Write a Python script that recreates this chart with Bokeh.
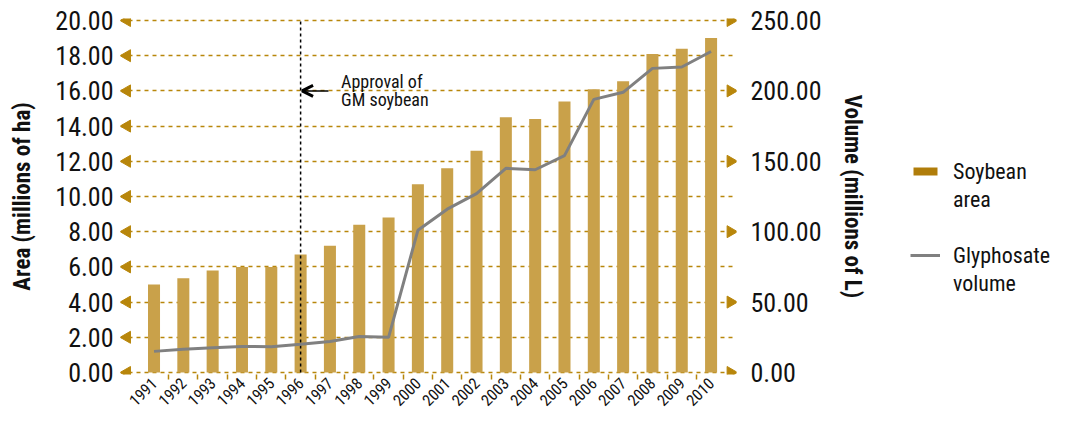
import math
from bokeh.plotting import figure
from bokeh.layouts import row
from bokeh.models import (Range1d, LinearAxis, FixedTicker, NumeralTickFormatter,
                          Legend, LegendItem, Arrow, OpenHead, Grid)
from bokeh.core.properties import value
from bokeh.embed import file_html
from bokeh.resources import INLINE

years = list(range(1991, 2011))
year_labels = [str(y) for y in years]
soy_area = [5.0, 5.35, 5.8, 6.0, 6.0, 6.7, 7.2, 8.4, 8.8, 10.7,
            11.6, 12.6, 14.5, 14.4, 15.4, 16.1, 16.55, 18.1, 18.4, 19.0]
gly_volume = [15, 16.5, 17.5, 18.5, 18.3, 20, 22, 25.5, 25, 101,
              116, 127, 145, 144, 154, 194, 199, 216, 217, 228]
area_ticks = [0, 2, 4, 6, 8, 10, 12, 14, 16, 18, 20]
vol_ticks = [0, 50, 100, 150, 200, 250]
approval_year = 1996
approval_text = ["Approval of", "GM soybean"]
legend_lines = [["Soybean", "area"], ["Glyphosate", "volume"]]

FONT = "Liberation Sans Narrow, Arial Narrow, Roboto Condensed, sans-serif"
GOLD = "#B8860B"
BAR = "#C9A14A"
SWATCH = "#B07D0A"
GRAY = "#808080"
TXT = "#111111"

H = 414
x_start, x_end = 1989.857, 2010.867
y_lo, y_hi = -0.114, 20.114
vol_scale = vol_ticks[-1] / area_ticks[-1]

p = figure(width=872, height=H, output_backend="svg", toolbar_location=None,
           x_range=Range1d(x_start, x_end), y_range=Range1d(y_lo, y_hi),
           min_border_top=18, min_border_left=120, min_border_right=136,
           min_border_bottom=40, y_axis_location=None, x_axis_location=None)
p.outline_line_color = None
p.xgrid.visible = False
p.ygrid.visible = False
p.extra_y_ranges = {"vol": Range1d(y_lo * vol_scale, y_hi * vol_scale)}

p.add_layout(Grid(dimension=1, ticker=FixedTicker(ticks=area_ticks), grid_line_color=GOLD,
                  grid_line_dash="4 4", grid_line_width=1.5))

yl = LinearAxis(ticker=FixedTicker(ticks=area_ticks),
                formatter=NumeralTickFormatter(format="0.00"),
                axis_label="Area (millions of ha)")
yr = LinearAxis(y_range_name="vol", ticker=FixedTicker(ticks=vol_ticks),
                formatter=NumeralTickFormatter(format="0.00"),
                axis_label="Volume (millions of L)")
for ax, so, ls in ((yl, 7, 16), (yr, 14, 14)):
    ax.axis_line_color = None
    ax.major_tick_line_color = None
    ax.minor_tick_line_color = None
    ax.major_tick_out = 0
    ax.major_tick_in = 0
    ax.major_label_standoff = so
    ax.major_label_text_font = FONT
    ax.major_label_text_font_size = "26px"
    ax.major_label_text_color = TXT
    ax.axis_label_text_font = FONT
    ax.axis_label_text_font_style = "bold"
    ax.axis_label_text_font_size = "23px"
    ax.axis_label_text_color = TXT
    ax.axis_label_standoff = ls
p.add_layout(yl, "left")
p.add_layout(yr, "right")

xa = LinearAxis(ticker=FixedTicker(ticks=years, minor_ticks=[y + 0.5 for y in years[:-1]]),
                major_label_overrides={y: s for y, s in zip(years, year_labels)})
xa.axis_line_color = None
xa.major_tick_line_color = None
xa.major_tick_out = 0
xa.major_tick_in = 0
xa.minor_tick_line_color = GOLD
xa.minor_tick_line_width = 1.5
xa.minor_tick_out = 5
xa.minor_tick_in = 0
xa.major_label_orientation = math.pi / 4
xa.major_label_standoff = 1
xa.major_label_text_font = FONT
xa.major_label_text_font_size = "16px"
xa.major_label_text_color = TXT
p.add_layout(xa, "below")

p.scatter(x=[1990.079] * len(area_ticks), y=area_ticks, marker="triangle",
          size=12, angle=math.pi / 2, fill_color=GOLD, line_color=GOLD)
p.scatter(x=[2010.665] * len(vol_ticks), y=vol_ticks, y_range_name="vol",
          marker="triangle", size=12, angle=-math.pi / 2, fill_color=GOLD, line_color=GOLD)

p.vbar(x=years, top=soy_area, width=0.41, bottom=0, fill_color=BAR, line_color=None)

p.segment(x0=[approval_year], y0=[0], x1=[approval_year], y1=[area_ticks[-1]],
          line_color="black", line_dash="3 3", line_width=1.5)

p.line(x=years, y=gly_volume, y_range_name="vol", line_color=GRAY, line_width=3)

p.add_layout(Arrow(end=OpenHead(size=11, line_width=3, line_color="black"),
                   x_start=approval_year + 0.95, y_start=16, x_end=approval_year + 0.05, y_end=16,
                   line_color="black", line_width=1.5))
p.text(x=[approval_year + 1.38] * 2, y=[16.55, 15.5], text=approval_text,
       text_font=value(FONT), text_font_size="18px", text_baseline="middle",
       text_color=TXT)

# legend panel
q = figure(width=179, height=H, output_backend="svg", toolbar_location=None,
           x_range=Range1d(0, 1), y_range=Range1d(0, 1), min_border=0,
           x_axis_location=None, y_axis_location=None)
q.outline_line_color = None
q.xgrid.visible = False
q.ygrid.visible = False
nan = float("nan")
swatch = q.vbar(x=[nan], top=[nan], bottom=[nan], width=0.4, fill_color=SWATCH, line_color=None)
gline = q.line(x=[nan, nan], y=[nan, nan], line_color=GRAY, line_width=3)
blank = q.scatter(x=[nan], y=[nan], size=1, fill_alpha=0, line_alpha=0)
items = [LegendItem(label=legend_lines[0][0], renderers=[swatch]),
         LegendItem(label=legend_lines[0][1], renderers=[blank]),
         LegendItem(label=" ", renderers=[blank]),
         LegendItem(label=legend_lines[1][0], renderers=[gline]),
         LegendItem(label=legend_lines[1][1], renderers=[blank])]
legend = Legend(items=items, location=(38, 77), label_text_font=FONT,
                label_text_font_size="22px", label_text_line_height=1.0,
                label_text_color=TXT, label_height=28, label_text_baseline="middle",
                glyph_width=30, glyph_height=10,
                border_line_color=None, background_fill_alpha=0, spacing=0,
                margin=0, padding=0, label_standoff=13)
q.add_layout(legend, "center")

layout = row(p, q, spacing=0)
open("out.html", "w").write(file_html(layout, INLINE))
